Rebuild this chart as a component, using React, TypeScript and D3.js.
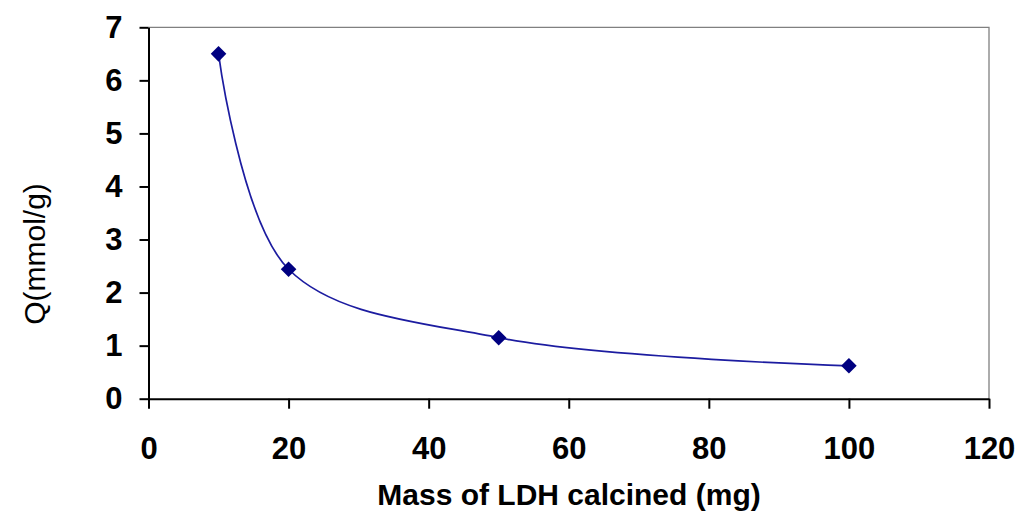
import { useEffect, useRef } from "react"
import * as d3 from "d3"

const massMg = [10, 20, 50, 100]
const qValues = [6.5, 2.44, 1.15, 0.62]
const xTicks = [0, 20, 40, 60, 80, 100, 120]
const yTicks = [0, 1, 2, 3, 4, 5, 6, 7]

export default function App() {
  const ref = useRef<SVGSVGElement>(null)

  useEffect(() => {
    const svg = d3.select(ref.current)
    svg.selectAll("*").remove()

    const left = 148.5
    const right = 989
    const top = 27.3
    const bottom = 398.7

    const x = d3.scaleLinear().domain([0, 120]).range([left, right])
    const y = d3.scaleLinear().domain([0, 7]).range([bottom, top])

    const font = "'Liberation Sans', Arial, sans-serif"

    // gray frame on top and right
    svg.append("path")
      .attr("d", `M${left},${top}H${right}V${bottom}`)
      .attr("fill", "none")
      .attr("stroke", "#808080")
      .attr("stroke-width", 1.3)

    // x axis
    const xAxis = svg.append("g")
      .attr("transform", `translate(0,${bottom})`)
      .call(d3.axisBottom(x).tickValues(xTicks).tickFormat(d3.format("d")).tickSize(10).tickSizeOuter(0).tickPadding(28))
    xAxis.select(".domain").attr("stroke", "#000").attr("stroke-width", 2)
    xAxis.selectAll(".tick line").attr("stroke", "#000").attr("stroke-width", 2)
    xAxis.selectAll(".tick text")
      .attr("font-family", font)
      .attr("font-size", 31)
      .attr("font-weight", "bold")
      .attr("fill", "#000")

    // y axis
    const yAxis = svg.append("g")
      .attr("transform", `translate(${left},0)`)
      .call(d3.axisLeft(y).tickValues(yTicks).tickFormat(d3.format("d")).tickSize(9).tickSizeOuter(0).tickPadding(17))
    yAxis.select(".domain").attr("stroke", "#000").attr("stroke-width", 2)
    yAxis.selectAll(".tick line").attr("stroke", "#000").attr("stroke-width", 2)
    yAxis.selectAll(".tick text")
      .attr("font-family", font)
      .attr("font-size", 31)
      .attr("font-weight", "bold")
      .attr("fill", "#000")

    // axis titles
    svg.append("text")
      .attr("x", 569)
      .attr("y", 505)
      .attr("text-anchor", "middle")
      .attr("font-family", font)
      .attr("font-size", 30)
      .attr("font-weight", "bold")
      .text("Mass of LDH calcined (mg)")

    svg.append("text")
      .attr("transform", `translate(45,254) rotate(-90)`)
      .attr("text-anchor", "middle")
      .attr("font-family", font)
      .attr("font-size", 30)
      .text("Q(mmol/g)")

    const pts = massMg.map((m, i) => [m, qValues[i]] as [number, number])

    const line = d3.line<[number, number]>()
      .x((d) => x(d[0]))
      .y((d) => y(d[1]))
      .curve(d3.curveCatmullRom.alpha(0.5))

    svg.append("path")
      .datum(pts)
      .attr("d", line)
      .attr("fill", "none")
      .attr("stroke", "#1c1ca0")
      .attr("stroke-width", 1.7)

    svg.selectAll(".pt")
      .data(pts)
      .enter()
      .append("path")
      .attr("class", "pt")
      .attr("transform", (d) => `translate(${x(d[0])},${y(d[1])})`)
      .attr("d", "M0,-7.8L7.8,0L0,7.8L-7.8,0Z")
      .attr("fill", "#000080")
  }, [])

  return (
    <svg ref={ref} width={1022} height={512} style={{ position: "absolute", left: 0, top: 0, background: "#fff" }} />
  )
}
